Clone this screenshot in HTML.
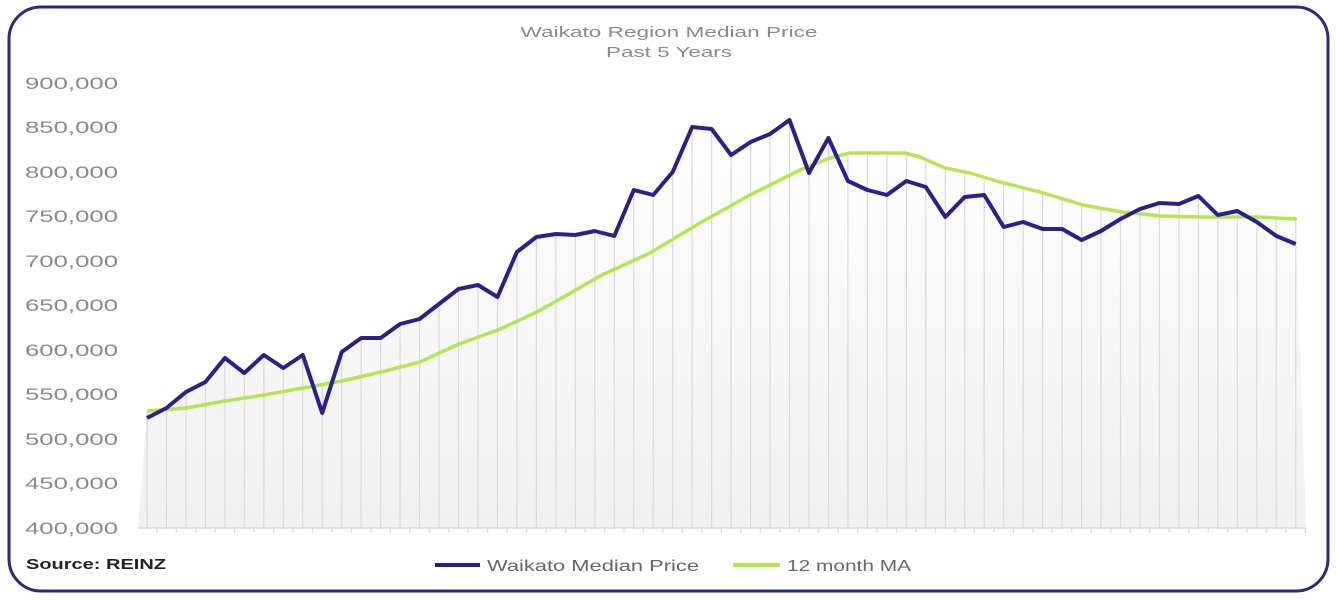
<!DOCTYPE html>
<html><head><meta charset="utf-8"><style>
html,body{margin:0;padding:0;background:#fff;}
svg{display:block;font-family:"Liberation Sans",sans-serif;}
</style></head><body>
<svg id="s" width="1336" height="600" viewBox="0 0 1336 600">
<defs>
<linearGradient id="bg" x1="0" y1="0" x2="0" y2="1">
<stop offset="0" stop-color="#ffffff"/><stop offset="1" stop-color="#f0f0f0"/>
</linearGradient>
</defs>
<rect x="9" y="7" width="1319" height="584" rx="32" ry="32" fill="#fff" stroke="#2e2a7a" stroke-width="3"/>
<text x="669" y="37" text-anchor="middle" font-size="15" fill="#8a8a8a" textLength="297" lengthAdjust="spacingAndGlyphs">Waikato Region Median Price</text>
<text x="669" y="57" text-anchor="middle" font-size="15" fill="#8a8a8a" textLength="126" lengthAdjust="spacingAndGlyphs">Past 5 Years</text>
<path id="area" fill="url(#bg)"/>
<g id="grid" stroke="#d8d8d8" stroke-width="1.2"></g>
<line x1="138" y1="528" x2="1306" y2="528" stroke="#d9d9d9" stroke-width="1.5"/>
<g id="ticks" stroke="#d9d9d9" stroke-width="1.2"></g>
<g font-size="17" fill="#8a8a8a" text-anchor="end">
<text x="118" y="89" textLength="93" lengthAdjust="spacingAndGlyphs">900,000</text>
<text x="118" y="133" textLength="93" lengthAdjust="spacingAndGlyphs">850,000</text>
<text x="118" y="178" textLength="93" lengthAdjust="spacingAndGlyphs">800,000</text>
<text x="118" y="222" textLength="93" lengthAdjust="spacingAndGlyphs">750,000</text>
<text x="118" y="267" textLength="93" lengthAdjust="spacingAndGlyphs">700,000</text>
<text x="118" y="311" textLength="93" lengthAdjust="spacingAndGlyphs">650,000</text>
<text x="118" y="356" textLength="93" lengthAdjust="spacingAndGlyphs">600,000</text>
<text x="118" y="400" textLength="93" lengthAdjust="spacingAndGlyphs">550,000</text>
<text x="118" y="445" textLength="93" lengthAdjust="spacingAndGlyphs">500,000</text>
<text x="118" y="489" textLength="93" lengthAdjust="spacingAndGlyphs">450,000</text>
<text x="118" y="534" textLength="93" lengthAdjust="spacingAndGlyphs">400,000</text>
</g>
<polyline id="green" fill="none" stroke="#b5e553" stroke-width="3.5" stroke-linejoin="round"/>
<polyline id="blue" fill="none" stroke="#2b1f8c" stroke-width="4" stroke-linejoin="round"/>
<text x="26" y="569" font-size="15" font-weight="bold" fill="#222" textLength="140" lengthAdjust="spacingAndGlyphs">Source: REINZ</text>
<line x1="435" y1="565" x2="480" y2="565" stroke="#2b1f8c" stroke-width="4"/>
<text x="487" y="571" font-size="16" fill="#666" textLength="212" lengthAdjust="spacingAndGlyphs">Waikato Median Price</text>
<line x1="733" y1="565" x2="780" y2="565" stroke="#b5e553" stroke-width="4"/>
<text x="787" y="571" font-size="16" fill="#666" textLength="124" lengthAdjust="spacingAndGlyphs">12 month MA</text>
</svg>
<script>
(function(){
var NS="http://www.w3.org/2000/svg";
var x0=147,dx=19.47;
var b=[418,408,392,382,358,373,355,368,355,413,352,338,338,324,319,304,289,285,297,252,237,234,235,231,236,190,195,172,127,129,155,142,134,120,173,138,181,190,195,181,187,217,197,195,227,222,229,229,240,231,219,209,203,204,196,215,211,222,236,244];
var gk=[[147,411],[186,408],[225,401],[264,395],[303,388],[342,381],[381,372],[420,362],[459,344],[498,330],[537,312],[576,290],[600,276],[650,253],[700,223],[750,195],[800,170],[830,158],[850,153],[905,153],[920,157],[945,168],[970,173],[1000,182],[1040,192],[1083,205],[1122,212],[1161,216],[1200,217],[1258,217],[1297,219]];
function gy(x){for(var j=1;j<gk.length;j++){if(x<=gk[j][0]){var a=gk[j-1],c=gk[j];return a[1]+(c[1]-a[1])*(x-a[0])/(c[0]-a[0]);}}return gk[gk.length-1][1];}
var g=document.getElementById("grid"),t=document.getElementById("ticks");
var area="M138,528";
for(var i=0;i<60;i++){var x=x0+dx*i;var yTop=Math.min(b[i],gy(x));
area+=" L"+x.toFixed(1)+","+yTop.toFixed(1);
var l=document.createElementNS(NS,"line");
l.setAttribute("x1",x);l.setAttribute("x2",x);l.setAttribute("y1",yTop);l.setAttribute("y2",528);g.appendChild(l);
var k=document.createElementNS(NS,"line");var xt=x+dx/2;k.setAttribute("x1",xt);k.setAttribute("x2",xt);k.setAttribute("y1",528);k.setAttribute("y2",533);t.appendChild(k);}
area+=" L1306,528 Z";
document.getElementById("area").setAttribute("d",area);
document.getElementById("blue").setAttribute("points",b.map(function(y,i){return (x0+dx*i).toFixed(1)+","+y;}).join(" "));
document.getElementById("green").setAttribute("points",gk.map(function(p){return p.join(",");}).join(" "));
})();
</script>
</body></html>
